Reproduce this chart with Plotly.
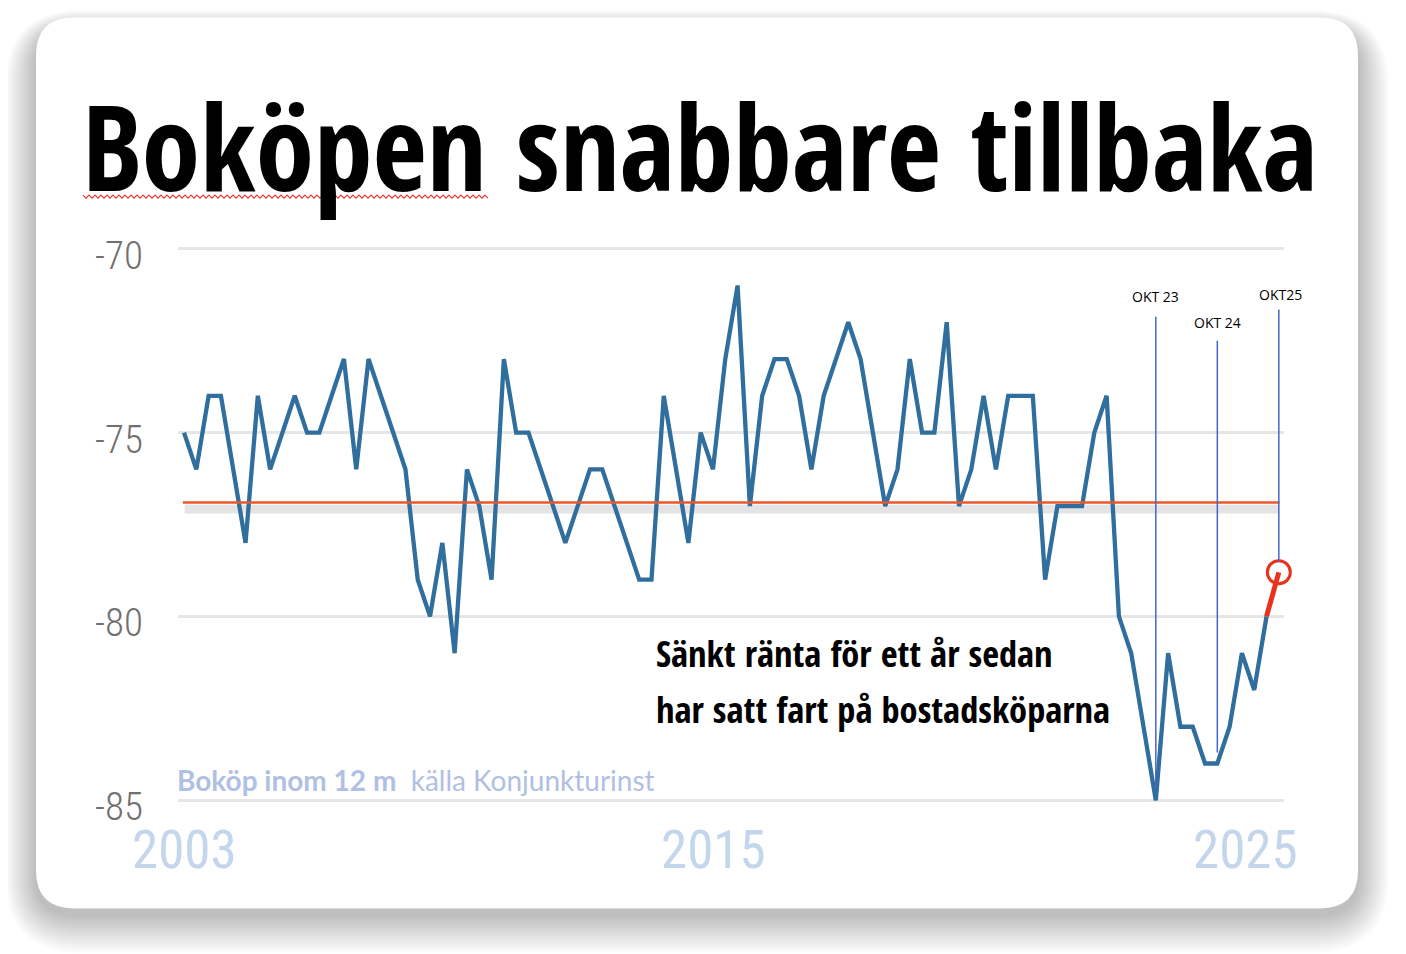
import plotly.graph_objects as go

# Boköp inom 12 månader (nettotal), 2003 - okt 2025
values = [-75, -76, -74, -74, -76, -78, -74, -76, -75, -74,
          -75, -75, -74, -73, -76, -73, -74, -75, -76, -79,
          -80, -78, -81, -76, -77, -79, -73, -75, -75, -76,
          -77, -78, -77, -76, -76, -77, -78, -79, -79, -74,
          -76, -78, -75, -76, -73, -71, -77, -74, -73, -73,
          -74, -76, -74, -73, -72, -73, -75, -77, -76, -73,
          -75, -75, -72, -77, -76, -74, -76, -74, -74, -74,
          -79, -77, -77, -77, -75, -74, -80, -81, -83, -85,
          -81, -83, -83, -84, -84, -83, -81, -82, -80, -78.8]
idx = list(range(len(values)))

avg_level = -76.9
year_labels = ["2003", "2015", "2025"]
year_idx = [0, 43.05, 86.3]
y_ticks = [-70, -75, -80, -85]

okt_labels = ["OKT 23", "OKT 24", "OKT25"]
okt_idx = [79, 84, 89]
okt_top = [-71.85, -72.5, -71.65]
okt_label_y = [-71.3, -72.0, -71.25]

title = "Boköpen snabbare tillbaka"
note_lines = ["Sänkt ränta för ett år sedan", "har satt fart på bostadsköparna"]
source = "<b>Boköp inom 12 m</b>&nbsp; källa Konjunkturinst"

# page has an 8px body margin, so positions below are given in window pixels
OFF = 8
W, H = 1398, 946
ML, MT = 170, 226.3
PW, PH = 1106, 580.4
MR, MB = W - ML - PW, H - MT - PH


def px(x):
    return (x - OFF - ML) / PW


def py(y):
    return (H - MB - (y - OFF)) / PH


def rrect(x0, y0, x1, y1, r):
    pts = [("M", x0 + r, y0), ("L", x1 - r, y0), ("Q", x1, y0, x1, y0 + r),
           ("L", x1, y1 - r), ("Q", x1, y1, x1 - r, y1), ("L", x0 + r, y1),
           ("Q", x0, y1, x0, y1 - r), ("L", x0, y0 + r), ("Q", x0, y0, x0 + r, y0)]
    out = []
    for p in pts:
        nums = p[1:]
        coords = [f"{px(nums[i]):.5f},{py(nums[i + 1]):.5f}" for i in range(0, len(nums), 2)]
        out.append(p[0] + " " + " ".join(coords))
    return " ".join(out) + " Z"


shapes = []
# soft shadow under the card
for i in range(16, 0, -1):
    s = i * 2.4
    shapes.append(dict(type="path", xref="paper", yref="paper", layer="below",
                       path=rrect(36 - s * 0.8, 18 - s * 0.5 + 12, 1358 + s * 0.8, 908 + s + 6, 38 + s),
                       fillcolor="rgba(0,0,0,0.016)", line=dict(width=0)))
# white card
shapes.append(dict(type="path", xref="paper", yref="paper", layer="below",
                   path=rrect(36, 18, 1358, 908, 38),
                   fillcolor="white", line=dict(width=0)))

# red spell-check squiggle under the first word
zz = []
xx, k = 83, 0
while xx <= 490:
    yy = 195.5 if k % 2 == 0 else 198.5
    zz.append(("M" if k == 0 else "L") + f" {px(xx):.5f},{py(yy):.5f}")
    xx += 3
    k += 1
shapes.append(dict(type="path", xref="paper", yref="paper", layer="above",
                   path=" ".join(zz), line=dict(color="#e53935", width=1.2)))

# grey band + red average line
shapes.append(dict(type="rect", xref="x", yref="y", layer="below",
                   x0=0.05, x1=89, y0=avg_level - 0.06, y1=avg_level - 0.3,
                   fillcolor="#e4e4e4", line=dict(width=0)))
shapes.append(dict(type="line", xref="x", yref="y", layer="above",
                   x0=-0.1, x1=89.05, y0=avg_level, y1=avg_level,
                   line=dict(color="#e8572e", width=2.6)))

# vertical markers
for i, top in zip(okt_idx, okt_top):
    shapes.append(dict(type="line", xref="x", yref="y", layer="above",
                       x0=i, x1=i, y0=top, y1=values[i] + 0.3,
                       line=dict(color="#4466cc", width=1.5)))

fig = go.Figure()
fig.add_trace(go.Scatter(x=idx[:-1], y=values[:-1], mode="lines",
                         line=dict(color="#2f6e9d", width=4.3),
                         hoverinfo="skip"))
fig.add_trace(go.Scatter(x=idx[-2:], y=values[-2:], mode="lines",
                         line=dict(color="#e8321e", width=5),
                         hoverinfo="skip"))
fig.add_trace(go.Scatter(x=idx[-1:], y=values[-1:], mode="markers",
                         marker=dict(symbol="circle-open", size=23, color="#e8321e",
                                     line=dict(color="#e8321e", width=3)),
                         cliponaxis=False, hoverinfo="skip"))

annotations = []
annotations.append(dict(xref="paper", yref="paper", x=px(700), y=py(146),
                        xanchor="center", yanchor="middle", showarrow=False,
                        text=title,
                        font=dict(family="Open Sans Condensed, Roboto Condensed, sans-serif",
                                  size=118, color="black", weight=700)))
for j, line in enumerate(note_lines):
    annotations.append(dict(xref="paper", yref="paper", x=px(654), y=py(653 + 56 * j),
                            xanchor="left", yanchor="middle", showarrow=False,
                            text=line,
                            font=dict(family="Open Sans Condensed, Roboto Condensed, sans-serif",
                                      size=36.5, color="black", weight=700)))
annotations.append(dict(xref="paper", yref="paper", x=px(175), y=py(780),
                        xanchor="left", yanchor="middle", showarrow=False,
                        text=source,
                        font=dict(family="Lato, Open Sans, sans-serif", size=28, color="#b0c0e4")))
for lab, i, yl in zip(okt_labels, okt_idx, okt_label_y):
    annotations.append(dict(xref="x", yref="y", x=i + (0.1 if lab == "OKT25" else 0), y=yl,
                            xanchor="center", yanchor="middle", showarrow=False,
                            text=lab,
                            font=dict(family="Open Sans, sans-serif", size=14, color="black")))
for v in y_ticks:
    annotations.append(dict(xref="paper", yref="y", x=px(145), y=v, yshift=-7,
                            xanchor="right", yanchor="middle", showarrow=False,
                            text=str(v),
                            font=dict(family="Roboto Condensed, sans-serif",
                                      size=39, color="#707070", weight=300)))
for lab, i in zip(year_labels, year_idx):
    annotations.append(dict(xref="x", yref="paper", x=i, y=py(850),
                            xanchor="center", yanchor="middle", showarrow=False,
                            text=lab,
                            font=dict(family="Roboto Condensed, sans-serif",
                                      size=53, color="#c3d6ec")))

fig.update_layout(
    width=W, height=H,
    margin=dict(l=ML, r=MR, t=MT, b=MB, pad=0),
    paper_bgcolor="white",
    plot_bgcolor="rgba(0,0,0,0)",
    showlegend=False,
    shapes=shapes,
    annotations=annotations,
    xaxis=dict(range=[-0.49, 89.42], showgrid=False, zeroline=False, showline=False,
               showticklabels=False, ticks=""),
    yaxis=dict(range=[-85.4, -69.6], showgrid=True, gridcolor="#e6e6e6", gridwidth=3,
               zeroline=False, showline=False, tickmode="array", tickvals=y_ticks,
               showticklabels=False, ticks=""),
)

fig.write_html("out.html")
